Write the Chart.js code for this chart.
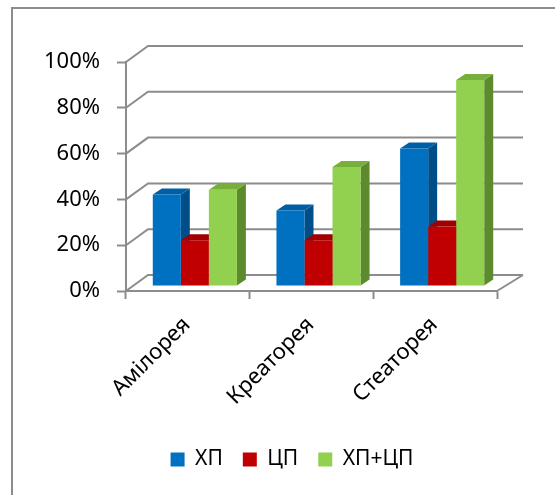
<!DOCTYPE html>
<html>
<head>
<meta charset="utf-8">
<script src="https://cdn.jsdelivr.net/npm/chart.js@4/dist/chart.umd.min.js"></script>
<style>
  html, body { margin: 0; padding: 0; background: #fff; }
  canvas { display: block; }
</style>
</head>
<body>
<canvas id="chart" width="555" height="495"></canvas>
<script>
// data
const categories = ['Амілорея', 'Креаторея', 'Стеаторея'];
const seriesNames = ['ХП', 'ЦП', 'ХП+ЦП'];
const hpValues = [40, 33, 60];
const cpValues = [20, 20, 26];
const hpCpValues = [42, 52, 90];

// colours: front, side, top
const frontColors = ['#0070C0', '#C00000', '#92D050'];
const sideColors = ['#004E88', '#870000', '#5E8A2E'];
const topColors = ['#0060A6', '#A00000', '#77AE3C'];
const lineColor = '#8c8c8c';

// 3d offsets
const WALL_DX_L = 22, WALL_DX_R = 26, WALL_DY = -16;
const BAR_DX = 9, BAR_DY = -6;
const SHIFT_X = 7, SHIFT_Y = -5;

Chart.defaults.font.family = "'Noto Sans', sans-serif";
Chart.defaults.color = '#000';

// frame (only top and left edges visible)
const framePlugin = {
    id: 'frame',
    beforeDraw(chart) {
        const ctx = chart.ctx;
        ctx.save();
        ctx.strokeStyle = lineColor;
        ctx.lineWidth = 2;
        ctx.beginPath();
        ctx.moveTo(12, 495);
        ctx.lineTo(12, 8);
        ctx.lineTo(555, 8);
        ctx.stroke();
        ctx.restore();
    }
};

// back wall, floor and bar side/top faces
const wallPlugin = {
    id: 'wall3d',
    beforeDatasetsDraw(chart) {
        const { ctx, chartArea: a, scales: { y } } = chart;
        ctx.save();
        ctx.strokeStyle = lineColor;
        ctx.lineWidth = 2;
        y.ticks.forEach(t => {
            const py = y.getPixelForValue(t.value);
            ctx.beginPath();
            ctx.moveTo(a.left, py);
            ctx.lineTo(a.left + WALL_DX_L, py + WALL_DY);
            ctx.lineTo(a.right + WALL_DX_R, py + WALL_DY);
            ctx.stroke();
        });
        const py0 = y.getPixelForValue(0);
        ctx.beginPath();
        ctx.moveTo(a.right, py0);
        ctx.lineTo(a.right + WALL_DX_R, py0 + WALL_DY);
        ctx.stroke();
        ctx.restore();

        // bars sit in the middle of the depth
        ctx.save();
        ctx.translate(SHIFT_X, SHIFT_Y);

        // side and top faces first, front faces are drawn by chart.js on top
        chart.getSortedVisibleDatasetMetas().forEach(meta => {
            const i = meta.index;
            meta.data.forEach(bar => {
                const { x, y, base, width } = bar.getProps(['x', 'y', 'base', 'width'], true);
                const l = x - width / 2, r = x + width / 2;
                ctx.fillStyle = sideColors[i];
                ctx.beginPath();
                ctx.moveTo(r, y);
                ctx.lineTo(r + BAR_DX, y + BAR_DY);
                ctx.lineTo(r + BAR_DX, base + BAR_DY);
                ctx.lineTo(r, base);
                ctx.closePath();
                ctx.fill();
                ctx.fillStyle = topColors[i];
                ctx.beginPath();
                ctx.moveTo(l, y);
                ctx.lineTo(l + BAR_DX, y + BAR_DY);
                ctx.lineTo(r + BAR_DX, y + BAR_DY);
                ctx.lineTo(r, y);
                ctx.closePath();
                ctx.fill();
            });
        });
    },
    afterDatasetsDraw(chart) {
        chart.ctx.restore();
    }
};

const allValues = [hpValues, cpValues, hpCpValues];
const datasets = seriesNames.map((name, i) => ({
    label: name,
    data: allValues[i],
    backgroundColor: frontColors[i],
    borderWidth: 0,
    clip: false
}));

new Chart(document.getElementById('chart'), {
    type: 'bar',
    data: { labels: categories, datasets: datasets },
    options: {
        responsive: false,
        animation: false,
        devicePixelRatio: 1,
        layout: { padding: { left: 29, right: 0, top: 62, bottom: 15 } },
        datasets: { bar: { barPercentage: 1, categoryPercentage: 0.68 } },
        plugins: {
            tooltip: { enabled: false },
            legend: {
                position: 'bottom',
                labels: {
                    boxWidth: 14,
                    boxHeight: 14,
                    padding: 20,
                    font: { size: 21 }
                }
            }
        },
        scales: {
            x: {
                afterFit: s => { s.height = 138; },
                grid: { drawOnChartArea: false, tickLength: 8, tickColor: lineColor, tickWidth: 2 },
                border: { color: lineColor, width: 2 },
                ticks: { minRotation: 45, maxRotation: 45, padding: 13, labelOffset: -1, font: { size: 22 } }
            },
            y: {
                min: 0,
                max: 100,
                afterFit: s => { s.width = 97; },
                grid: { drawOnChartArea: false, tickLength: 9, tickColor: lineColor, tickWidth: 2 },
                border: { color: lineColor, width: 2 },
                ticks: { stepSize: 20, padding: 17, font: { size: 22 }, callback: v => v + '%' }
            },
            // empty space on the right for the depth of the wall
            yRight: {
                position: 'right',
                grid: { display: false },
                border: { display: false },
                ticks: { display: false },
                afterFit: s => { s.width = 58; }
            }
        }
    },
    plugins: [framePlugin, wallPlugin]
});
</script>
</body>
</html>
